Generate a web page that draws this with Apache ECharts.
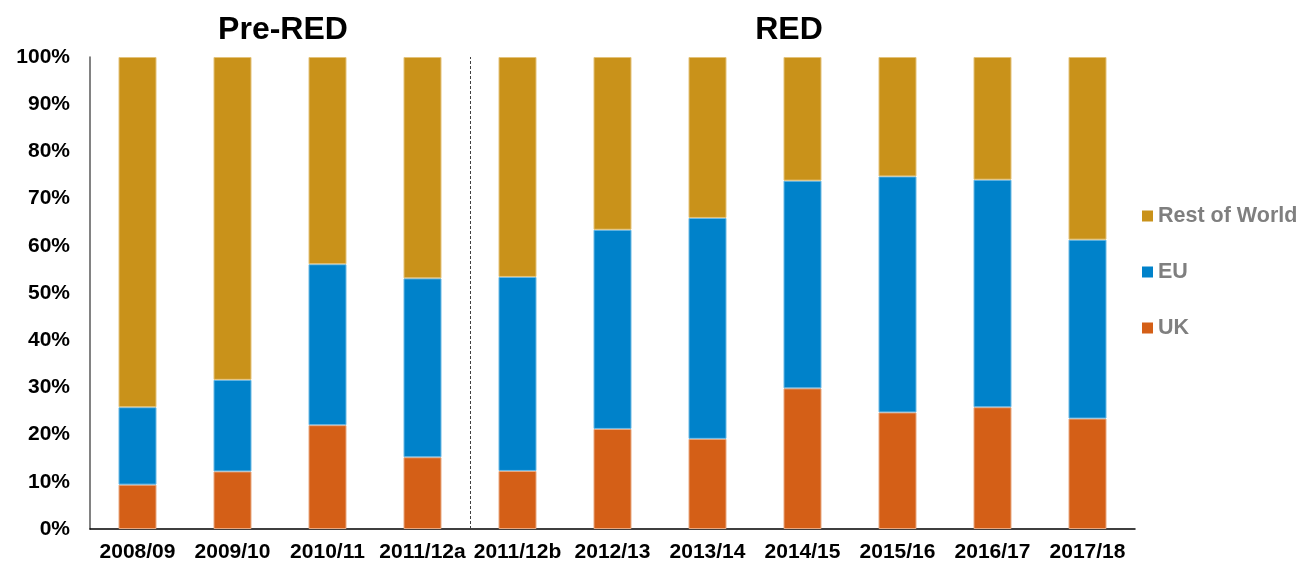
<!DOCTYPE html>
<html>
<head>
<meta charset="utf-8">
<script src="https://cdn.jsdelivr.net/npm/echarts@6/dist/echarts.min.js"></script>
<style>
  html, body { margin: 0; padding: 0; background: #ffffff; }
  #chart { width: 1299px; height: 566px; }
</style>
</head>
<body>
<div id="chart"></div>
<script>
// Share of biofuel feedstock by origin, per reporting year (%)
const years = ['2008/09', '2009/10', '2010/11', '2011/12a', '2011/12b', '2012/13', '2013/14', '2014/15', '2015/16', '2016/17', '2017/18'];
const ukShare = [9.4, 12.2, 22.0, 15.2, 12.3, 21.2, 19.1, 29.8, 24.7, 25.8, 23.4];
const euShare = [16.4, 19.4, 34.1, 37.9, 41.1, 42.2, 46.8, 44.0, 50.0, 48.2, 37.9];
const rowShare = [74.2, 68.4, 43.9, 46.9, 46.6, 36.6, 34.1, 26.2, 25.3, 26.0, 38.7];
const yTicks = [0, 10, 20, 30, 40, 50, 60, 70, 80, 90, 100];
// Category boundary where the RED period starts (between 2011/12a and 2011/12b)
const periodSplit = 4;

const FONT = '"Liberation Sans", Arial, sans-serif';
const chart = echarts.init(document.getElementById('chart'), null, { renderer: 'canvas' });

const barSeries = (name, data, color, border) => ({
  name, type: 'bar', stack: 'share', data,
  xAxisIndex: 0, yAxisIndex: 0,
  barWidth: '40%',
  itemStyle: { color, borderColor: border, borderWidth: 1 },
  emphasis: { disabled: true }
});

chart.setOption({
  animation: false,
  backgroundColor: '#ffffff',
  textStyle: { fontFamily: FONT },
  grid: { left: 90, right: 164, top: 57, bottom: 37, containLabel: false },
  title: [
    { text: 'Pre-RED', left: 278, top: 9, textAlign: 'center',
      textStyle: { fontFamily: FONT, fontSize: 32, fontWeight: 'bold', color: '#000000' } },
    { text: 'RED', left: 784, top: 9, textAlign: 'center',
      textStyle: { fontFamily: FONT, fontSize: 32, fontWeight: 'bold', color: '#000000' } }
  ],
  legend: {
    orient: 'vertical', left: 1137, top: 200,
    itemWidth: 11, itemHeight: 11, itemGap: 34,
    icon: 'rect',
    itemStyle: { borderWidth: 0 },
    data: ['Rest of World', 'EU', 'UK'],
    textStyle: { fontFamily: FONT, fontSize: 21.5, fontWeight: 'bold', color: '#7f7f7f' }
  },
  xAxis: [
    {
      type: 'category', data: years,
      axisLine: { show: true, lineStyle: { color: '#000000', width: 1.5 } },
      axisTick: { show: false },
      axisLabel: { color: '#000000', fontFamily: FONT, fontSize: 21, fontWeight: 'bold', margin: 13, interval: 0 }
    },
    {
      // hidden linear axis spanning the categories, used to place the period divider
      type: 'value', min: 0, max: years.length, show: false
    }
  ],
  yAxis: {
    type: 'value', min: 0, max: 100, interval: 10,
    axisLine: { show: true, lineStyle: { color: '#595959', width: 1.5 } },
    axisTick: { show: false },
    splitLine: { show: false },
    axisLabel: {
      color: '#000000', fontFamily: FONT, fontSize: 21, fontWeight: 'bold', margin: 20,
      formatter: v => (yTicks.includes(v) ? v + '%' : '')
    }
  },
  series: [
    barSeries('UK', ukShare, '#d45f17', '#e8a880'),
    barSeries('EU', euShare, '#0082ca', '#6bb8e3'),
    barSeries('Rest of World', rowShare, '#c9921a', '#e3c27a'),
    {
      type: 'line', xAxisIndex: 1, yAxisIndex: 0, data: [],
      silent: true,
      markLine: {
        symbol: 'none', silent: true, label: { show: false },
        lineStyle: { color: '#404040', type: [3, 2], width: 1 },
        data: [{ xAxis: periodSplit }]
      }
    }
  ]
});
</script>
</body>
</html>
